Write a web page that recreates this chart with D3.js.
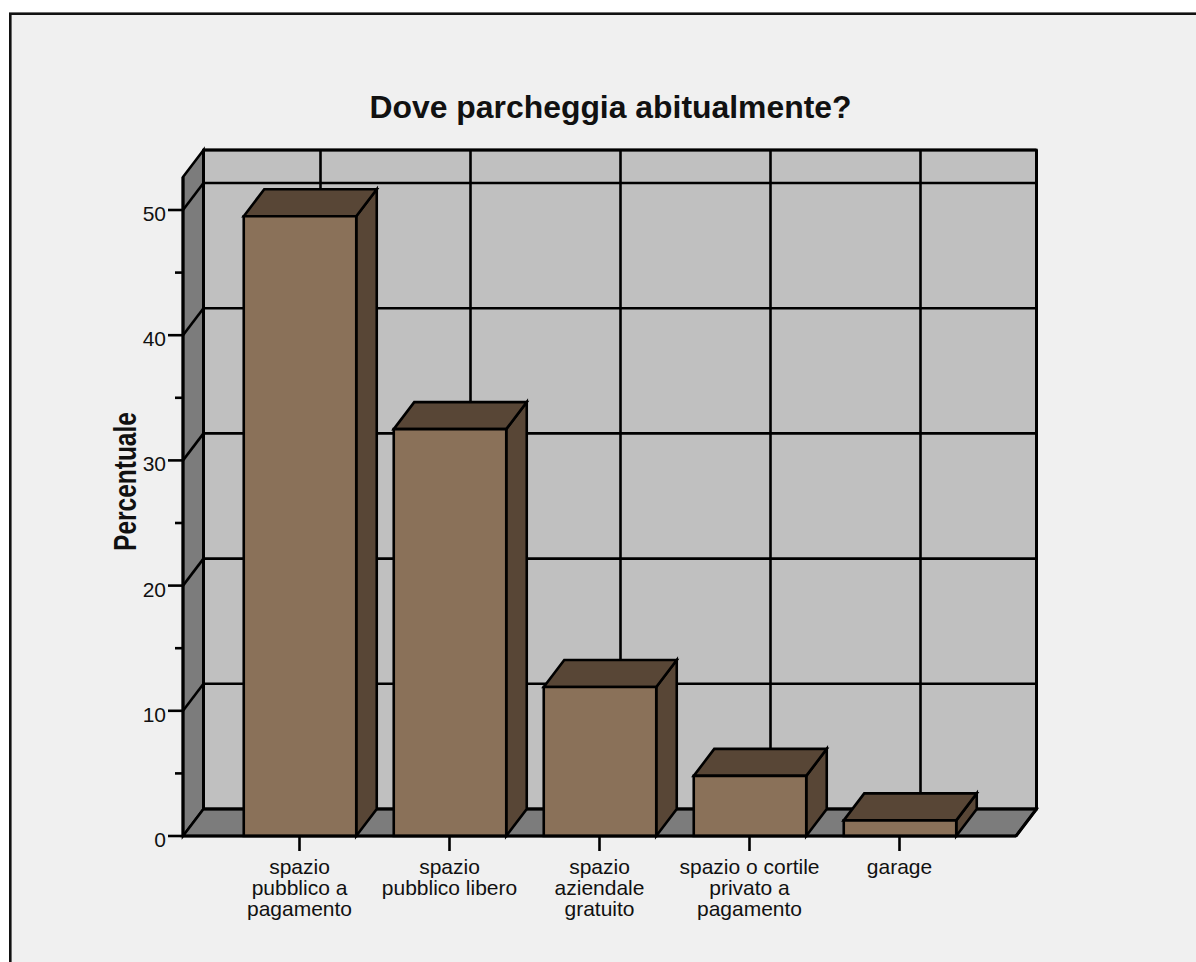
<!DOCTYPE html>
<html><head><meta charset="utf-8">
<script src="https://cdn.jsdelivr.net/npm/d3@7"></script>
<style>html,body{margin:0;padding:0;background:#fff}svg{display:block}text{font-family:"Liberation Sans",Arial,sans-serif;fill:#111}</style>
</head><body><div id="c"></div>
<script>
const categories = ["spazio pubblico a pagamento","spazio pubblico libero","spazio aziendale gratuito","spazio o cortile privato a pagamento","garage"];
const labelLines = [["spazio","pubblico a","pagamento"],["spazio","pubblico libero"],["spazio","aziendale","gratuito"],["spazio o cortile","privato a","pagamento"],["garage"]];
const values = [49.5,32.5,11.9,4.8,1.25];
const majorTicks = [0,10,20,30,40,50];
const minorTicks = [5,15,25,35,45];
const titleText = "Dove parcheggia abitualmente?";
const yTitle = "Percentuale";
const W=1196,H=962;
const dx=20.5, dy=-27;
const svg=d3.select("#c").append("svg").attr("width",W).attr("height",H);
svg.append("rect").attr("width",W).attr("height",H).attr("fill","#fff");
svg.append("rect").attr("x",10.3).attr("y",13.7).attr("width",W+20).attr("height",H+20).attr("fill","#f0f0f0").attr("stroke","#111").attr("stroke-width",2.6);
const y=d3.scaleLinear().domain([0,50]).range([836,210]);
const yMax=y.invert(177);
const xl=183,xr=1016;
const x=d3.scaleBand().domain(categories).range([225,975]).paddingInner(0.25).paddingOuter(0.125);
const ink="#000";
const poly=(pts,fill,sw=2.6)=>svg.append("polygon").attr("points",pts.map(p=>p.join(",")).join(" ")).attr("fill",fill).attr("stroke",ink).attr("stroke-width",sw).attr("stroke-linejoin","miter");
const line=(a,b,sw=2.6)=>svg.append("line").attr("x1",a[0]).attr("y1",a[1]).attr("x2",b[0]).attr("y2",b[1]).attr("stroke",ink).attr("stroke-width",sw);
// back wall, left wall, floor
poly([[xl+dx,y(yMax)+dy],[xr+dx,y(yMax)+dy],[xr+dx,y(0)+dy],[xl+dx,y(0)+dy]],"#c0c0c0");
poly([[xl,y(yMax)],[xl+dx,y(yMax)+dy],[xl+dx,y(0)+dy],[xl,y(0)]],"#7c7c7c");
poly([[xl,y(0)],[xl+dx,y(0)+dy],[xr+dx,y(0)+dy],[xr,y(0)]],"#7c7c7c");
// gridlines
majorTicks.slice(1).forEach(v=>{line([xl,y(v)],[xl+dx,y(v)+dy]);line([xl+dx,y(v)+dy],[xr+dx,y(v)+dy]);});
line([xl+dx,y(0)+dy],[xr+dx,y(0)+dy],3);
categories.forEach(c=>{const cx=x(c)+x.bandwidth()/2+dx;line([cx,y(yMax)+dy],[cx,y(0)+dy]);});
line([xl+dx,y(yMax)+dy],[xl+dx,y(0)+dy],3);
line([xr+dx,y(yMax)+dy],[xr+dx,y(0)+dy],3);
line([xl+dx,y(yMax)+dy],[xr+dx,y(yMax)+dy],3);
// bars
categories.forEach((c,i)=>{
  const a=x(c),b=a+x.bandwidth(),t=y(values[i]),z=y(0);
  poly([[b,t],[b+dx,t+dy],[b+dx,z+dy],[b,z]],"#584636");
  poly([[a,t],[a+dx,t+dy],[b+dx,t+dy],[b,t]],"#584636");
  poly([[a,t],[b,t],[b,z],[a,z]],"#8a7159");
});
// axes
line([xl,y(0)],[xr,y(0)],3);
line([xl,y(yMax)],[xl,y(0)],3);
line([xr,y(0)],[xr+dx,y(0)+dy],3);
majorTicks.forEach(v=>{line([xl-15,y(v)],[xl,y(v)]);
  svg.append("text").attr("x",xl-17).attr("y",y(v)+11).attr("text-anchor","end").attr("font-size",21).text(v);});
minorTicks.forEach(v=>line([xl-8,y(v)],[xl,y(v)]));
categories.forEach((c,i)=>{const cx=x(c)+x.bandwidth()/2;
  line([cx-0.5,y(0)],[cx-0.5,y(0)+15]);
  const t=svg.append("text").attr("text-anchor","middle").attr("font-size",21);
  labelLines[i].forEach((l,j)=>t.append("tspan").attr("x",cx-0.5).attr("y",874+j*21).text(l));
});
svg.append("text").attr("x",610.5).attr("y",118).attr("text-anchor","middle").attr("font-size",31.9).attr("font-weight","bold").text(titleText);
svg.append("text").attr("transform","translate(135.5,481.5) rotate(-90) scale(0.79,1)").attr("text-anchor","middle").attr("font-size",31).attr("font-weight","bold").text(yTitle);
</script></body></html>
